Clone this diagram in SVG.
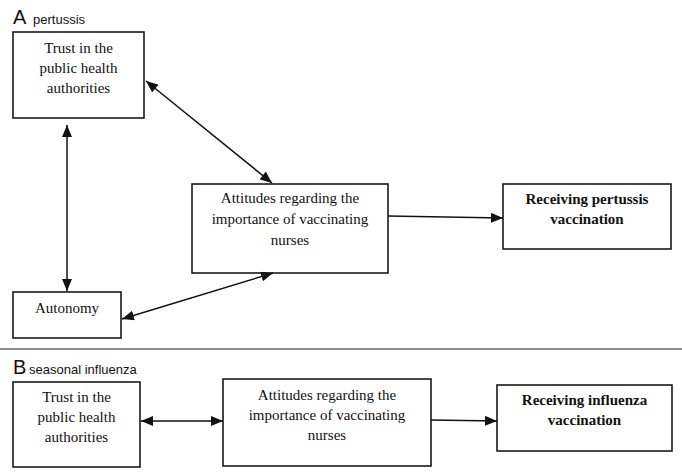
<svg xmlns="http://www.w3.org/2000/svg" width="682" height="476" viewBox="0 0 682 476">
<style>
.box{fill:#fff;stroke:#1a1a1a;stroke-width:1.6}
.t{font-family:"Liberation Serif",serif;font-size:15px;fill:#111;text-anchor:middle}
.b{font-weight:bold}
.lbl{font-family:"Liberation Sans",Arial,sans-serif;fill:#111}
.c{stroke:#111;stroke-width:1.5;fill:none}
</style>
<defs>
<marker id="ah" viewBox="0 0 12 10" refX="12" refY="5" markerWidth="12" markerHeight="10" markerUnits="userSpaceOnUse" orient="auto-start-reverse">
<path d="M0,0 L12,5 L0,10 Z" fill="#111"/>
</marker>
</defs>
<rect width="682" height="476" fill="#fff"/>
<g id="labelA"><text class="lbl" x="13" y="24" font-size="20">A</text><text class="lbl" x="33" y="24" font-size="13">pertussis</text></g>
<g id="labelB"><text class="lbl" x="13" y="374" font-size="20">B</text><text class="lbl" x="29" y="374" font-size="13">seasonal influenza</text></g>
<line id="separator" x1="0" y1="349" x2="682" y2="349" stroke="#666" stroke-width="1.5"/>
<g id="trustA"><rect class="box" x="13" y="32" width="131" height="86"/>
<text class="t" x="78.5" y="53">Trust in the</text><text class="t" x="78.5" y="73">public health</text><text class="t" x="78.5" y="93">authorities</text></g>
<g id="autonomy"><rect class="box" x="13" y="292" width="108" height="46"/>
<text class="t" x="67" y="313">Autonomy</text></g>
<g id="attitudesA"><rect class="box" x="192" y="184" width="196" height="89"/>
<text class="t" x="290" y="203">Attitudes regarding the</text><text class="t" x="290" y="224">importance of vaccinating</text><text class="t" x="290" y="245">nurses</text></g>
<g id="receivingPertussis"><rect class="box" x="503" y="184" width="168" height="65"/>
<text class="t b" x="587" y="204">Receiving pertussis</text><text class="t b" x="587" y="224">vaccination</text></g>
<g id="trustB"><rect class="box" x="13" y="382" width="127" height="85"/>
<text class="t" x="76.5" y="402">Trust in the</text><text class="t" x="76.5" y="422">public health</text><text class="t" x="76.5" y="442">authorities</text></g>
<g id="attitudesB"><rect class="box" x="223" y="379" width="208" height="87"/>
<text class="t" x="327" y="400">Attitudes regarding the</text><text class="t" x="327" y="420">importance of vaccinating</text><text class="t" x="327" y="440">nurses</text></g>
<g id="receivingInfluenza"><rect class="box" x="497" y="385" width="175" height="66"/>
<text class="t b" x="584.5" y="405">Receiving influenza</text><text class="t b" x="584.5" y="425">vaccination</text></g>
<g id="connectors">
<line class="c" x1="67" y1="125" x2="67" y2="291" marker-start="url(#ah)" marker-end="url(#ah)"/>
<line class="c" x1="146" y1="81" x2="272" y2="183" marker-start="url(#ah)" marker-end="url(#ah)"/>
<line class="c" x1="122" y1="319" x2="273" y2="273" marker-start="url(#ah)" marker-end="url(#ah)"/>
<line class="c" x1="388" y1="216" x2="503" y2="218" marker-end="url(#ah)"/>
<line class="c" x1="141" y1="421" x2="223" y2="421" marker-start="url(#ah)" marker-end="url(#ah)"/>
<line class="c" x1="431" y1="420" x2="497" y2="421" marker-end="url(#ah)"/>
</g>
</svg>
